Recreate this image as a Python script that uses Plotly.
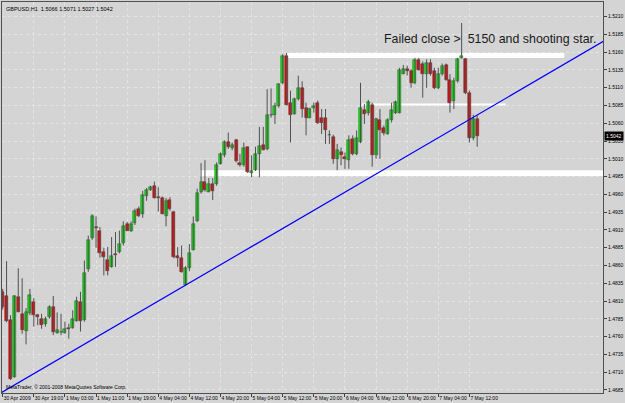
import plotly.graph_objects as go

# ---------------- data (GBPUSD H1) ----------------
opens = [1.4822,1.4817,1.4783,1.4703,1.4816,1.4792,1.4768,1.4793,1.4808,1.4790,
         1.4785,1.4777,1.4788,1.4801,1.4765,1.4767,1.4765,1.4772,1.4772,1.4782,
         1.4809,1.4783,1.4855,1.4898,1.4914,1.4909,1.4879,1.4868,1.4858,1.4876,
         1.4879,1.4891,1.4918,1.4909,1.4920,1.4939,1.4933,1.4958,1.4966,1.4972,
         1.4956,1.4955,1.4930,1.4952,1.4935,1.4873,1.4870,1.4833,1.4856,1.4882,
         1.4922,1.4964,1.4978,1.4964,1.4975,1.4975,1.5003,1.5015,1.5033,1.5025,
         1.5036,1.5004,1.5002,1.5026,1.4990,1.4994,1.5017,1.5030,1.5024,1.5072,
         1.5072,1.5084,1.5116,1.5154,1.5088,1.5073,1.5094,1.5109,1.5082,1.5068,
         1.5081,1.5089,1.5068,1.5067,1.5044,1.5041,1.5010,1.5019,1.5013,1.5008,
         1.5038,1.5017,1.5034,1.5079,1.5074,1.5086,1.5015,1.5065,1.5054,1.5045,
         1.5064,1.5075,1.5075,1.5130,1.5137,1.5133,1.5117,1.5149,1.5143,1.5129,
         1.5145,1.5134,1.5110,1.5129,1.5142,1.5121,1.5092,1.5120,1.5152,1.5150,
         1.5103,1.5039,1.5066]
highs = [1.4827,1.4866,1.4790,1.4818,1.4856,1.4842,1.4800,1.4827,1.4814,1.4792,
         1.4792,1.4788,1.4804,1.4817,1.4794,1.4792,1.4781,1.4778,1.4797,1.4816,
         1.4823,1.4867,1.4902,1.4932,1.4929,1.4914,1.4885,1.4886,1.4900,1.4907,
         1.4909,1.4922,1.4921,1.4922,1.4940,1.4943,1.4965,1.4969,1.4972,1.4978,
         1.4970,1.4957,1.4955,1.4956,1.4937,1.4886,1.4888,1.4859,1.4890,1.4929,
         1.4968,1.5004,1.5008,1.4983,1.4983,1.5005,1.5019,1.5036,1.5047,1.5033,
         1.5038,1.5017,1.5033,1.5027,1.5015,1.5027,1.5055,1.5055,1.5108,1.5109,
         1.5089,1.5116,1.5157,1.5159,1.5106,1.5096,1.5127,1.5119,1.5089,1.5082,
         1.5089,1.5092,1.5080,1.5080,1.5050,1.5044,1.5031,1.5026,1.5019,1.5043,
         1.5043,1.5050,1.5117,1.5087,1.5093,1.5089,1.5068,1.5080,1.5057,1.5067,
         1.5089,1.5092,1.5138,1.5142,1.5141,1.5136,1.5152,1.5152,1.5147,1.5150,
         1.5150,1.5138,1.5138,1.5144,1.5144,1.5129,1.5124,1.5152,1.5201,1.5152,
         1.5106,1.5072,1.5071]
lows = [1.4798,1.4780,1.4699,1.4702,1.4794,1.4764,1.4749,1.4790,1.4774,1.4776,
        1.4771,1.4774,1.4785,1.4762,1.4764,1.4762,1.4764,1.4757,1.4771,1.4781,
        1.4767,1.4781,1.4851,1.4896,1.4885,1.4871,1.4846,1.4846,1.4857,1.4858,
        1.4877,1.4888,1.4909,1.4907,1.4917,1.4928,1.4927,1.4951,1.4965,1.4954,
        1.4936,1.4932,1.4915,1.4937,1.4870,1.4858,1.4850,1.4832,1.4852,1.4881,
        1.4921,1.4961,1.4964,1.4963,1.4952,1.4972,1.5002,1.5012,1.5024,1.5022,
        1.5005,1.4999,1.4999,1.4990,1.4984,1.4993,1.4984,1.5022,1.5022,1.5068,
        1.5059,1.5082,1.5115,1.5085,1.5033,1.5072,1.5092,1.5068,1.5043,1.5067,
        1.5075,1.5059,1.5045,1.5031,1.5031,1.5003,1.4994,1.5001,1.4996,1.4996,
        1.5015,1.5015,1.5032,1.5059,1.5071,1.4999,1.5010,1.5010,1.5043,1.5044,
        1.5061,1.5073,1.5074,1.5129,1.5127,1.5110,1.5115,1.5134,1.5096,1.5110,
        1.5127,1.5108,1.5108,1.5127,1.5120,1.5075,1.5080,1.5117,1.5151,1.5101,
        1.5033,1.5036,1.5027]
closes = [1.4801,1.4782,1.4701,1.4817,1.4795,1.4769,1.4795,1.4819,1.4790,1.4788,
          1.4776,1.4785,1.4802,1.4767,1.4769,1.4766,1.4770,1.4770,1.4785,1.4810,
          1.4782,1.4850,1.4896,1.4929,1.4913,1.4877,1.4872,1.4852,1.4874,1.4875,
          1.4890,1.4916,1.4909,1.4919,1.4936,1.4930,1.4959,1.4966,1.4971,1.4955,
          1.4955,1.4933,1.4951,1.4940,1.4872,1.4870,1.4851,1.4856,1.4878,1.4918,
          1.4962,1.4977,1.4966,1.4975,1.4965,1.5002,1.5017,1.5034,1.5026,1.5029,
          1.5007,1.5002,1.5025,1.4991,1.4993,1.5017,1.5028,1.5023,1.5072,1.5071,
          1.5084,1.5115,1.5155,1.5086,1.5072,1.5094,1.5110,1.5080,1.5067,1.5080,
          1.5085,1.5061,1.5061,1.5050,1.5043,1.5010,1.5023,1.5016,1.5010,1.5037,
          1.5017,1.5039,1.5082,1.5073,1.5090,1.5015,1.5066,1.5050,1.5046,1.5064,
          1.5078,1.5090,1.5135,1.5136,1.5134,1.5117,1.5149,1.5135,1.5129,1.5145,
          1.5129,1.5110,1.5130,1.5141,1.5121,1.5089,1.5119,1.5150,1.5155,1.5103,
          1.5040,1.5066,1.5042]
bar_index = list(range(len(opens)))

time_tick_pos = [0, 8, 16, 24, 32, 40, 48, 56, 64, 72, 80, 88, 96, 104, 112, 120]
time_tick_labels = ["30 Apr 2009", "30 Apr 19:00", "1 May 03:00", "1 May 11:00",
                    "1 May 19:00", "4 May 04:00", "4 May 12:00", "4 May 20:00",
                    "5 May 04:00", "5 May 12:00", "5 May 20:00", "6 May 04:00",
                    "6 May 12:00", "6 May 20:00", "7 May 04:00", "7 May 12:00"]
price_ticks = [1.4685, 1.4710, 1.4735, 1.4760, 1.4785, 1.4810, 1.4835, 1.4860,
               1.4885, 1.4910, 1.4935, 1.4960, 1.4985, 1.5010, 1.5035, 1.5060,
               1.5085, 1.5110, 1.5135, 1.5160, 1.5185, 1.5210]

# drawn objects: white support/resistance bands and trend line
band_start = [73.1, 92.3, 50.7]
band_end = [144.4, 129.3, 160.0]
band_low = [1.5152, 1.5085, 1.4986]
band_high = [1.5159, 1.5088, 1.4994]
trend_x = [-1.0, 160.0]
trend_y = [1.4679, 1.5193]

last_price = closes[-1]
header = "GBPUSD,H1  %.4f %.4f %.4f %.4f" % (opens[-1], highs[-1], lows[-1], closes[-1])

BG = "#D4D4D4"
FONT = "Liberation Sans, Arial"

# wicks (one polyline with gaps), bodies as floating bars
wick_x, wick_y = [], []
for i, h, l in zip(bar_index, highs, lows):
    wick_x += [i, i, None]
    wick_y += [l, h, None]

body_base = [min(o, c) for o, c in zip(opens, closes)]
body_len = [max(abs(c - o), 0.00004) for o, c in zip(opens, closes)]
body_col = ["#00F000" if c > o else ("#F00000" if c < o else "#303030")
            for o, c in zip(opens, closes)]

fig = go.Figure()
fig.add_trace(go.Scatter(x=wick_x, y=wick_y, mode="lines",
                         line=dict(color="#505050", width=1),
                         showlegend=False, hoverinfo="skip"))
fig.add_trace(go.Bar(x=bar_index, y=body_len, base=body_base, width=0.78,
                     marker=dict(color=body_col, line=dict(color="#3A3A3A", width=0.5)),
                     showlegend=False, hoverinfo="skip"))
fig.add_trace(go.Scatter(x=trend_x, y=trend_y, mode="lines",
                         line=dict(color="#0000FF", width=1.2),
                         showlegend=False, hoverinfo="skip"))

for s, e, lo, hi in zip(band_start, band_end, band_low, band_high):
    fig.add_shape(type="rect", x0=s, x1=e, y0=lo, y1=hi, xref="x", yref="y",
                  fillcolor="#FFFFFF", line=dict(width=0), layer="between")

fig.add_annotation(x=97.4, y=1.5179, xref="x", yref="y",
                   text="Failed close > \u00a05150 and shooting star.",
                   showarrow=False, xanchor="left", yanchor="middle",
                   font=dict(family=FONT, size=12.4, color="#1A1A1A"))
fig.add_annotation(x=0, y=1, xref="paper", yref="paper", text=header, showarrow=False,
                   xanchor="left", yanchor="top", xshift=2, yshift=-2,
                   font=dict(family=FONT, size=5.5, color="#000000"))
fig.add_annotation(x=0, y=0, xref="paper", yref="paper",
                   text="MetaTrader, \u00a9 2001-2008 MetaQuotes Software Corp.", showarrow=False,
                   xanchor="left", yanchor="bottom", xshift=2, yshift=1,
                   font=dict(family=FONT, size=5, color="#000000"))
fig.add_annotation(x=1, y=last_price, xref="paper", yref="y", text="%.4f" % last_price,
                   showarrow=False, xanchor="left", yanchor="middle", xshift=1,
                   bgcolor="#000000", borderpad=1,
                   font=dict(family=FONT, size=5, color="#FFFFFF"))

fig.update_layout(
    width=625, height=403, margin=dict(l=1, r=19, t=1, b=10),
    paper_bgcolor=BG, plot_bgcolor=BG, bargap=0,
    xaxis=dict(range=[-0.18, 154.35],
               tickmode="array", tickvals=time_tick_pos, ticktext=time_tick_labels,
               tickangle=0, ticks="outside", ticklen=3, tickcolor="#404040",
               ticklabelposition="outside right",
               tickfont=dict(family=FONT, size=5, color="#000000"),
               showgrid=True, gridcolor="#E4E4E4", griddash="dot", gridwidth=1,
               showline=True, linecolor="#505050", linewidth=1, mirror=True,
               zeroline=False, fixedrange=True),
    yaxis=dict(range=[1.46806, 1.52306], side="right",
               tickmode="array", tickvals=price_ticks,
               ticktext=["%.4f" % v for v in price_ticks],
               ticks="outside", ticklen=3, tickcolor="#404040",
               tickfont=dict(family=FONT, size=5, color="#000000"),
               showgrid=True, gridcolor="#E4E4E4", griddash="dot", gridwidth=1,
               showline=True, linecolor="#505050", linewidth=1, mirror=True,
               zeroline=False, fixedrange=True),
)
fig.write_html("out.html")
